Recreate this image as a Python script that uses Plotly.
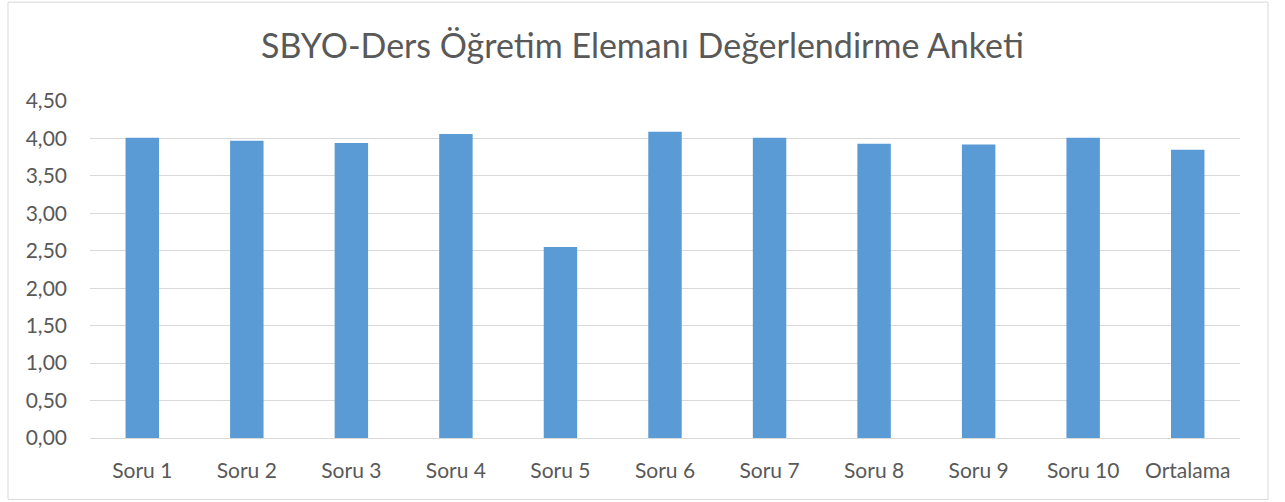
import plotly.graph_objects as go

categories = ["Soru 1", "Soru 2", "Soru 3", "Soru 4", "Soru 5", "Soru 6",
              "Soru 7", "Soru 8", "Soru 9", "Soru 10", "Ortalama"]
values = [4.01, 3.97, 3.94, 4.06, 2.55, 4.09, 4.01, 3.93, 3.92, 4.01, 3.85]
y_ticks = [0, 0.5, 1.0, 1.5, 2.0, 2.5, 3.0, 3.5, 4.0, 4.5]
title = "SBYO-Ders Öğretim Elemanı Değerlendirme Anketi"

W, H = 1285, 502
L, R, T, B = 90, 45, 101, 63.5
pw = W - L - R
ph = H - T - B

fig = go.Figure(go.Bar(x=categories, y=values, marker_color="#5B9BD5",
                       marker_line_width=0))

font_family = "Lato, 'Open Sans', sans-serif"
fig.update_layout(
    width=W, height=H,
    margin=dict(l=L, r=R, t=T, b=B, autoexpand=False),
    paper_bgcolor="white", plot_bgcolor="white",
    separators=",.",
    bargap=0.68,
    showlegend=False,
    title=dict(text=title, x=0.5, xanchor="center", y=1 - 46 / H, yanchor="middle",
               yref="container",
               font=dict(family=font_family, size=34, color="#595959")),
    font=dict(family=font_family, size=21, color="#595959"),
    xaxis=dict(showgrid=False, showline=True, linecolor="#D9D9D9", linewidth=1,
               ticks="", tickfont=dict(size=21, color="#595959"), ticklabelstandoff=14),
    yaxis=dict(range=[0, 4.5], tickvals=y_ticks, tickformat=".2f",
               showgrid=True, gridcolor="#D9D9D9", gridwidth=1,
               zeroline=False, showline=False, ticks="",
               tickfont=dict(size=21, color="#595959"), ticklabelstandoff=22),
    shapes=[dict(type="rect", xref="paper", yref="paper",
                 x0=(8 - L) / pw, x1=(1268 - L) / pw,
                 y0=(H - B - 500) / ph, y1=(H - B - 2) / ph,
                 line=dict(color="#D9D9D9", width=1), fillcolor="rgba(0,0,0,0)",
                 layer="below")],
)

fig.write_html("out.html", config={"displayModeBar": False},
               post_script="document.body.style.margin='0';document.body.style.overflow='hidden';")
